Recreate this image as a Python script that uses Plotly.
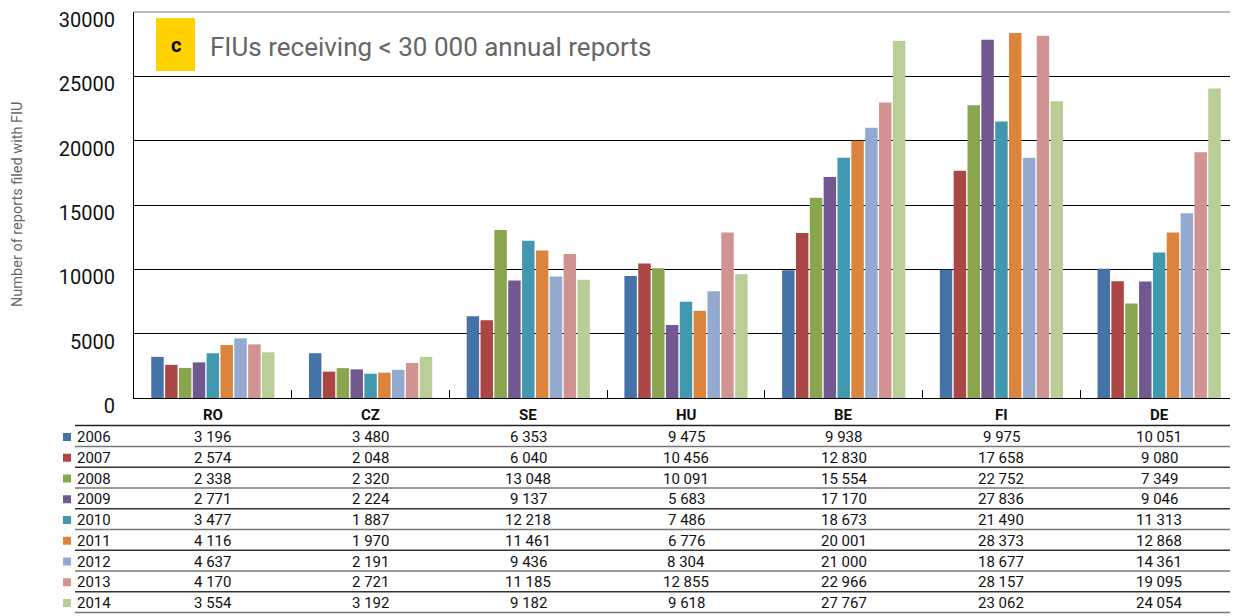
import plotly.graph_objects as go

countries = ["RO", "CZ", "SE", "HU", "BE", "FI", "DE"]
years = ["2006", "2007", "2008", "2009", "2010", "2011", "2012", "2013", "2014"]

v2006 = [3196, 3480, 6353, 9475, 9938, 9975, 10051]
v2007 = [2574, 2048, 6040, 10456, 12830, 17658, 9080]
v2008 = [2338, 2320, 13048, 10091, 15554, 22752, 7349]
v2009 = [2771, 2224, 9137, 5683, 17170, 27836, 9046]
v2010 = [3477, 1887, 12218, 7486, 18673, 21490, 11313]
v2011 = [4116, 1970, 11461, 6776, 20001, 28373, 12868]
v2012 = [4637, 2191, 9436, 8304, 21000, 18677, 14361]
v2013 = [4170, 2721, 11185, 12855, 22966, 28157, 19095]
v2014 = [3554, 3192, 9182, 9618, 27767, 23062, 24054]

series = [v2006, v2007, v2008, v2009, v2010, v2011, v2012, v2013, v2014]
colors = ["#4572A7", "#AA4643", "#89A54E", "#71588F", "#4198AF",
          "#DB843D", "#93A9CF", "#D19392", "#B9CD96"]
yticks = [0, 5000, 10000, 15000, 20000, 25000, 30000]

FONT = "Roboto"
# page body has an 8px margin, so the figure sits at (8, 8)
OFF = 8
W, H = 1238 - OFF, 616 - OFF
L, R, T, B = 134 - OFF, 0, 12 - OFF, 218


def py(y):
    # page pixel row -> paper coordinate
    return (H - B - (y - OFF)) / (H - B - T)


def px(x):
    return (x - OFF - L) / (W - L - R)


def fmt(v):
    return f"{v:,}".replace(",", " ")


fig = go.Figure()
for yr, vals, col in zip(years, series, colors):
    fig.add_trace(go.Bar(x=countries, y=vals, name=yr, marker_color=col,
                         marker_line_width=0))

ann = []
shapes = []
tf = dict(family=FONT, size=15, color="#111")

# table header
for c in countries:
    ann.append(dict(x=c, y=py(415), xref="x", yref="paper", text="<b>%s</b>" % c,
                    xanchor="center", yanchor="middle", showarrow=False, font=tf))

row0, step = 437, 20.75
shapes.append(dict(type="line", xref="paper", yref="paper", x0=px(75), x1=1,
                   y0=py(425.5), y1=py(425.5), line=dict(color="#222", width=1.5)))
for i, (yr, vals, col) in enumerate(zip(years, series, colors)):
    yc = row0 + i * step
    ann.append(dict(x=px(75), y=py(yc), xref="paper", yref="paper", text=yr,
                    xanchor="left", yanchor="middle", showarrow=False, font=tf))
    for c, v in zip(countries, vals):
        ann.append(dict(x=c, y=py(yc), xref="x", yref="paper", text=fmt(v),
                        xanchor="center", yanchor="middle", showarrow=False,
                        font=tf))
    shapes.append(dict(type="rect", xref="paper", yref="paper",
                       x0=px(63), x1=px(71), y0=py(yc - 4), y1=py(yc + 4),
                       fillcolor=col, line_width=0))
    ly = yc + 9.5
    shapes.append(dict(type="line", xref="paper", yref="paper", x0=px(75), x1=1,
                       y0=py(ly), y1=py(ly),
                       line=dict(color="#333" if i % 2 else "#777", width=1.5)))

# top border of the plot
shapes.append(dict(type="line", xref="paper", yref="paper", x0=0, x1=1,
                   y0=1, y1=1, line=dict(color="#777", width=1)))

# panel label
shapes.append(dict(type="rect", xref="paper", yref="paper",
                   x0=px(156), x1=px(195), y0=py(71), y1=py(18),
                   fillcolor="#FFD200", line_width=0))
ann.append(dict(x=px(175.5), y=py(45), xref="paper", yref="paper", text="<b>c</b>",
                xanchor="center", yanchor="middle", showarrow=False,
                font=dict(family=FONT, size=20, color="#000")))
ann.append(dict(x=px(208), y=py(47), xref="paper", yref="paper",
                text="FIUs receiving < 30 000 annual reports", xanchor="left",
                yanchor="middle", showarrow=False,
                font=dict(family=FONT, size=26, color="#666")))

# y axis title
ann.append(dict(x=px(17), y=0.5, xref="paper", yref="paper",
                text="Number of reports filed with FIU", textangle=-90,
                xanchor="center", yanchor="middle", showarrow=False,
                font=dict(family=FONT, size=14.5, color="#666")))

fig.update_layout(
    width=W, height=H,
    margin=dict(l=L, r=R, t=T, b=B),
    plot_bgcolor="white", paper_bgcolor="white",
    barmode="group", bargap=0.21, bargroupgap=0.1,
    showlegend=False,
    annotations=ann, shapes=shapes,
    font=dict(family=FONT),
)
fig.update_xaxes(showticklabels=False, tickson="boundaries", ticks="inside",
                 ticklen=8, tickcolor="#000", showline=True, linecolor="#000",
                 linewidth=1, showgrid=False, automargin=False)
fig.update_yaxes(range=[0, 30000], tickvals=yticks,
                 tickformat="d", showgrid=True, automargin=False,
                 gridcolor="#000", gridwidth=1, showline=True, linecolor="#000",
                 linewidth=1, zeroline=False, ticklabelstandoff=14,
                 ticklabelshift=8, ticklabeloverflow="allow",
                 tickfont=dict(family=FONT, size=20, color="#111"))

fig.write_html("out.html")
